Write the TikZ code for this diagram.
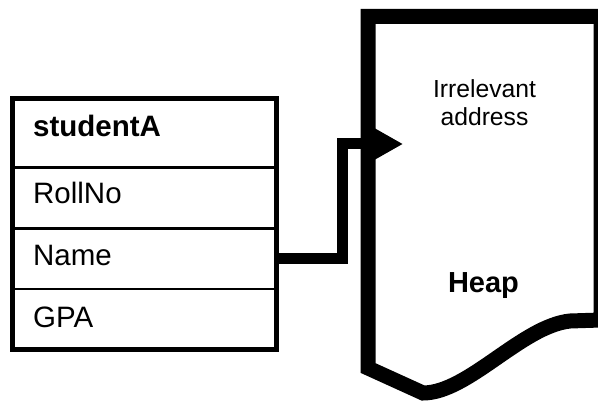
\documentclass[tikz,border=0pt]{standalone}
\usepackage{fontspec}
\setmainfont{Liberation Sans}
\usetikzlibrary{arrows.meta}
\begin{document}
\begin{tikzpicture}[x=1pt,y=-1pt,
  rowbox/.style={draw=none,minimum width=264pt,inner sep=0pt,outer sep=0pt},
  fieldtext/.style={anchor=base west,inner sep=0pt,font=\fontsize{29.5}{32}\selectfont},
  thinsep/.style={line width=2.5pt},
  heapline/.style={line width=15pt,line join=miter},
  connector/.style={line width=11pt,line join=miter,-{Triangle[length=28pt 0 0,width=29pt 0 0]}}]
\clip (0,0) rectangle (598,401);
\fill[white] (0,0) rectangle (598,401);
% table
\node[rowbox,minimum height=69pt] (hdr) at (144.5,133) {};
\node[rowbox,minimum height=61pt] (roll) at (144.5,198) {};
\node[rowbox,minimum height=60.5pt] (name) at (144.5,258.75) {};
\node[rowbox,minimum height=60.5pt] (gpa) at (144.5,319.25) {};
\draw[thinsep] (12.5,167.5) -- (276.5,167.5);
\draw[thinsep] (12.5,228.5) -- (276.5,228.5);
\draw[thinsep] (12.5,289) -- (276.5,289);
\draw[line width=5pt,line join=miter] (12.5,98.5) rectangle (276.5,349.5);
\node[fieldtext,font=\fontsize{29.5}{32}\selectfont\bfseries] (t1) at (33,137) {studentA};
\node[fieldtext] (t2) at (33,204) {RollNo};
\node[fieldtext] (t3) at (33,266) {Name};
\node[fieldtext] (t4) at (33,327) {GPA};
% heap
\draw[heapline] (368,16.5) -- (601,16.5) -- (601,320) -- (570,321)
  .. controls (522,326) and (468,393) .. (423,393) -- (368,368) -- cycle;
\node[font=\fontsize{24.7}{28}\selectfont,align=center,anchor=base,inner sep=0pt] (irr) at (484.5,126) {Irrelevant\\address};
\node[font=\fontsize{29}{32}\selectfont\bfseries,anchor=base,inner sep=0pt] (heap) at (483.5,293) {Heap};
% connector
\coordinate (tip) at (403,144);
\draw[connector] (name.east) -- (342.5,258.75) |- (tip);
\end{tikzpicture}
\end{document}
